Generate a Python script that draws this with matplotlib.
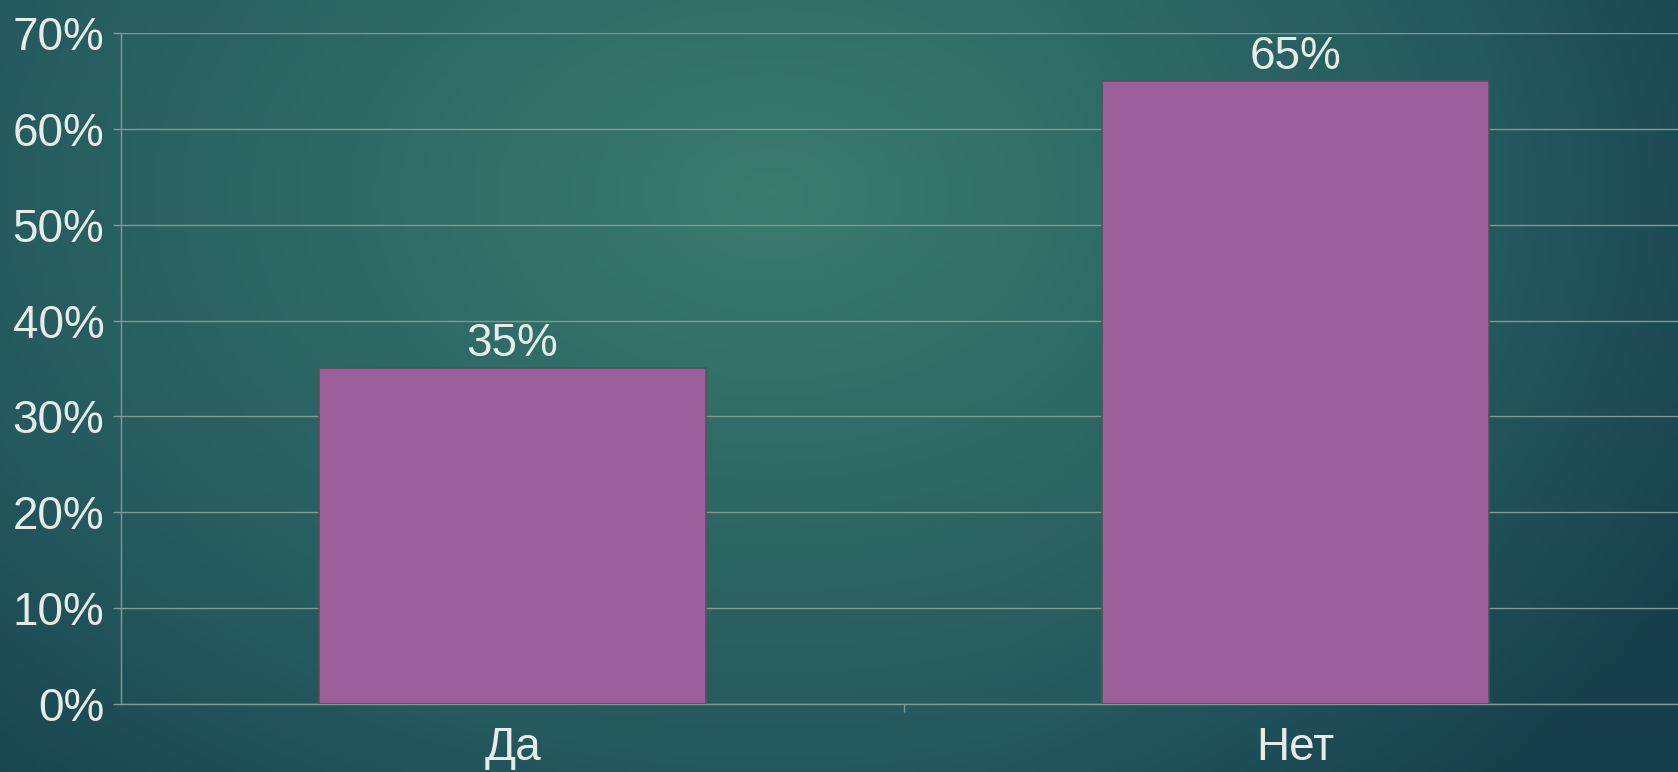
import numpy as np
import matplotlib
matplotlib.use("Agg")
import matplotlib.pyplot as plt
from matplotlib.colors import LinearSegmentedColormap

categories = ["Да", "Нет"]
values = [35, 65]
y_ticks = [0, 10, 20, 30, 40, 50, 60, 70]
y_labels = ["0%", "10%", "20%", "30%", "40%", "50%", "60%", "70%"]

plt.rcParams['font.family'] = ['Liberation Sans', 'DejaVu Sans']
text_col = "#e6ecea"
grid_col = "#849894"

fig = plt.figure(figsize=(16.78, 7.72), dpi=100)

# background: soft radial teal gradient
bg = fig.add_axes([0, 0, 1, 1], zorder=0)
xx, yy = np.meshgrid(np.linspace(0, 1, 400), np.linspace(0, 1, 200))
d = np.sqrt(((xx - 0.46) / 0.75) ** 2 + ((yy - 0.25) / 1.1) ** 2)
d = d + 0.3 * np.clip(xx - 0.6, 0, None)
cmap = LinearSegmentedColormap.from_list("bg", ["#3b7b6e", "#2e6a65", "#24595d", "#173f4d"])
bg.imshow(np.clip(d, 0, 1), cmap=cmap, aspect="auto", extent=[0, 1, 1, 0], vmin=0, vmax=1)
bg.axis("off")

ax = fig.add_axes([0.0721, 0.0881, 0.9333, 0.8692], zorder=1)
ax.patch.set_alpha(0)
x = np.arange(len(categories))
bars = ax.bar(x, values, width=0.495, color="#9d5f9b", edgecolor="#4e5559", linewidth=1.2, zorder=3)
for b, v in zip(bars, values):
    ax.annotate(f"{v}%", (b.get_x() + b.get_width() / 2, v), xytext=(0, 1.5), textcoords="offset points",
                ha="center", va="bottom", fontsize=33, color=text_col)

ax.set_xlim(-0.5, 1.5)
ax.set_ylim(0, 70)
ax.set_yticks(y_ticks)
ax.set_yticklabels(y_labels)
ax.set_xticks(x)
ax.set_xticklabels(categories)
ax.set_xticks([0.5, 1.5], minor=True)
ax.yaxis.grid(True, color=grid_col, linewidth=1.0, zorder=1)
ax.set_axisbelow(True)
for s in ["top", "right"]:
    ax.spines[s].set_visible(False)
for s in ["left", "bottom"]:
    ax.spines[s].set_color(grid_col)
    ax.spines[s].set_linewidth(1.0)
ax.tick_params(axis="y", colors=grid_col, length=6, width=1, labelsize=33, labelcolor=text_col, pad=6)
ax.tick_params(axis="x", which="major", length=0, labelsize=33, labelcolor=text_col, pad=16)
ax.tick_params(axis="x", which="minor", length=6, color=grid_col, width=1)

fig.savefig("out.png", dpi=100)
